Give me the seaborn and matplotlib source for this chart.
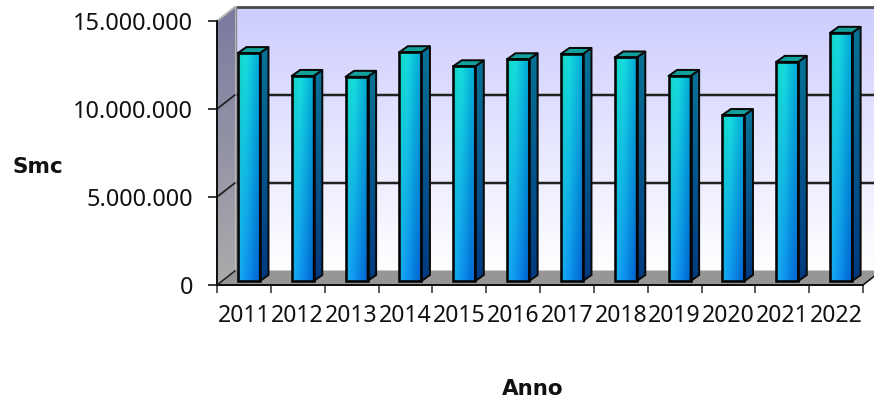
import numpy as np
import pandas as pd
import matplotlib
matplotlib.use("Agg")
import matplotlib.pyplot as plt
from matplotlib.patches import Polygon
from matplotlib.transforms import Affine2D, IdentityTransform
from matplotlib.ticker import FuncFormatter
import seaborn as sns

years = ["2011", "2012", "2013", "2014", "2015", "2016",
         "2017", "2018", "2019", "2020", "2021", "2022"]
smc = [12950000, 11650000, 11600000, 13000000, 12200000, 12600000,
       12900000, 12700000, 11650000, 9430000, 12450000, 14100000]
y_ticks = [0, 5000000, 10000000, 15000000]
x_title = "Anno"
y_title = "Smc"

W, H = 874, 405
LEFT, RIGHT, ZERO, TOP = 217, 863, 285, 21
DEPTH = (18.5, 14.5)        # wall depth in pixels
BAR_SHIFT = (5.0, 4.0)      # bars stand slightly inside the floor
BAR_DEPTH = (8.5, 6.0)
PX = 72 / 100

sns.set_style("white")
plt.rcParams["font.family"] = ["Noto Sans", "DejaVu Sans"]

fig = plt.figure(figsize=(W / 100, H / 100), dpi=100, facecolor="white")
ax = fig.add_axes([LEFT / W, (H - ZERO) / H, (RIGHT - LEFT) / W, (ZERO - TOP) / H])
ax.patch.set_visible(False)

df = pd.DataFrame({"year": years, "smc": smc})
sns.barplot(data=df, x="year", y="smc", color="#000000", width=0.41,
            saturation=1, ax=ax, zorder=6)
bars = list(ax.patches)
ax.set_xlim(-0.5, len(years) - 0.5)
ax.set_ylim(0, 15000000)
ax.set_autoscale_on(False)
fig.canvas.draw()


def gradient(verts, rgb, zorder):
    """Fill a display-space polygon with an RGB array."""
    verts = np.asarray(verts, float)
    x0, y0 = verts.min(axis=0)
    x1, y1 = verts.max(axis=0)
    im = ax.imshow(np.clip(rgb, 0, 255).astype(np.uint8), origin="upper", aspect="auto",
                   extent=(x0, x1, y0, y1), transform=IdentityTransform(),
                   interpolation="bilinear", zorder=zorder)
    im.set_clip_box(fig.bbox)
    im.set_clip_path(Polygon(verts, closed=True, transform=IdentityTransform()))


def ramp(start, stop, n=128):
    t = np.linspace(0, 1, n)[:, None]
    return (np.array(start, float) * (1 - t) + np.array(stop, float) * t)[:, None, :]


def poly(verts, color, zorder, edge="none", lw=0):
    ax.add_patch(Polygon(verts, closed=True, facecolor=color, edgecolor=edge, linewidth=lw * PX,
                         transform=IdentityTransform(), clip_on=False, zorder=zorder,
                         joinstyle="round"))


def line(xs, ys, color, lw, zorder):
    ax.plot(xs, ys, color=color, lw=lw * PX, transform=IdentityTransform(),
            clip_on=False, zorder=zorder, solid_capstyle="butt")


to_px = ax.transData.transform
(x_l, y_0) = to_px((-0.5, 0))
(x_r, y_t) = to_px((len(years) - 0.5, 15000000))
dx, dy = DEPTH

# Back wall, side wall and floor of the 3D box
gradient([(x_l + dx, y_0 + dy), (x_r + dx, y_0 + dy), (x_r + dx, y_t + dy), (x_l + dx, y_t + dy)],
         ramp((205, 205, 255), (255, 255, 255)), 1)
gradient([(x_l, y_0), (x_l + dx, y_0 + dy), (x_l + dx, y_t + dy), (x_l, y_t)],
         ramp((122, 122, 160), (172, 172, 172)), 1)
poly([(x_l, y_0), (x_r, y_0), (x_r + dx, y_0 + dy), (x_l + dx, y_0 + dy)], "#969696", 1.5)

# Gridlines run across the wall and back along the side
for tick in y_ticks:
    _, y = to_px((0, tick))
    if tick == 15000000:
        line([x_l, x_l + dx], [y, y + dy], "#b4b4b4", 2, 2)
        line([x_l + dx, x_r + dx], [y + dy, y + dy], "#4a4a4a", 2.8, 2)
    elif tick == 0:
        line([x_l, x_l + dx], [y, y + dy], "#222222", 1.6, 2)
    else:
        line([x_l, x_l + dx], [y, y + dy], "#222222", 1.8, 2)
        line([x_l + dx, x_r + dx], [y + dy, y + dy], "#222222", 2.5, 2)
line([x_l + dx, x_l + dx], [y_0 + dy, y_t + dy], "#8c8c8c", 1.4, 2)
line([x_r, x_r + dx], [y_0, y_0 + dy], "#111111", 1.6, 2)

# Bars: the seaborn rectangles give position and size; shading goes beneath their outline
sx, sy = BAR_SHIFT
bx, by = BAR_DEPTH
shift = Affine2D().translate(sx, sy)
n_rows, n_cols = 128, 32
u = np.linspace(0, 1, n_cols)
for bar in bars:
    (x0, y0) = to_px((bar.get_x(), 0))
    (x1, y1) = to_px((bar.get_x() + bar.get_width(), bar.get_height()))
    x0, x1, y0, y1 = x0 + sx, x1 + sx, y0 + sy, y1 + sy

    top_row = np.stack([np.interp(u, [0, 0.35, 1], c) for c in
                        [(15, 25, 0), (215, 222, 165), (190, 222, 215)]], axis=1)
    low_row = np.stack([np.interp(u, [0, 0.35, 1], c) for c in
                        [(25, 15, 0), (175, 150, 95), (240, 240, 205)]], axis=1)
    t = np.linspace(0, 1, n_rows)[:, None, None]
    front = top_row[None, :, :] * (1 - t) + low_row[None, :, :] * t
    gradient([(x0, y0), (x1, y0), (x1, y1), (x0, y1)], front, 5)

    side = [(x1, y0), (x1 + bx, y0 + by), (x1 + bx, y1 + by), (x1, y1)]
    gradient(side, ramp((8, 115, 150), (0, 58, 130)), 4)
    ax.add_patch(Polygon(side, closed=True, fill=False, edgecolor="#0a0a0a", linewidth=2.0 * PX,
                         transform=IdentityTransform(), clip_on=False, zorder=5.5))
    poly([(x0, y1), (x1, y1), (x1 + bx, y1 + by), (x0 + bx, y1 + by)], "#12a09a", 5.5,
         edge="#0a0a0a", lw=2.0)

    bar.set_transform(ax.transData + shift)
    bar.set_facecolor("none")
    bar.set_edgecolor("#050505")
    bar.set_linewidth(2.6 * PX)
    bar.set_clip_on(False)

# Axes frame, ticks and labels
for name in ("top", "right"):
    ax.spines[name].set_visible(False)
for name in ("left", "bottom"):
    ax.spines[name].set_visible(True)
    ax.spines[name].set_color("#111111")
    ax.spines[name].set_linewidth(2.0 * PX)
    ax.spines[name].set_zorder(8)

ax.set_yticks(y_ticks)
ax.yaxis.set_major_formatter(FuncFormatter(lambda v, _: f"{int(v):,}".replace(",", ".")))
ax.tick_params(axis="y", which="major", left=True, length=9 * PX, width=1.6 * PX,
               color="#111111", labelsize=23.5 * PX, pad=15 * PX, labelcolor="#111111")
ax.set_xticks(np.arange(-0.5, len(years)), labels=[])
ax.set_xticks(np.arange(len(years)), labels=years, minor=True)
ax.tick_params(axis="x", which="major", bottom=True, length=8 * PX, width=1.6 * PX, color="#333333")
ax.tick_params(axis="x", which="minor", bottom=False, length=0, labelsize=23 * PX, pad=19 * PX,
               labelcolor="#111111")

ax.set_xlabel(x_title, fontsize=21.5 * PX, fontweight="bold", color="#111111", family="DejaVu Sans",
              va="center", ha="center")
ax.set_ylabel(y_title, fontsize=21.5 * PX, fontweight="bold", color="#111111", family="DejaVu Sans",
              rotation=0, ha="center", va="center")
ax.xaxis.set_label_coords((532.5 - LEFT) / (RIGHT - LEFT), (ZERO - 389) / (ZERO - TOP))
ax.yaxis.set_label_coords((37.5 - LEFT) / (RIGHT - LEFT), (ZERO - 167) / (ZERO - TOP))

ax.set_xlim(-0.5, len(years) - 0.5)
ax.set_ylim(0, 15000000)
fig.savefig("out.png", dpi=100, facecolor="white")
